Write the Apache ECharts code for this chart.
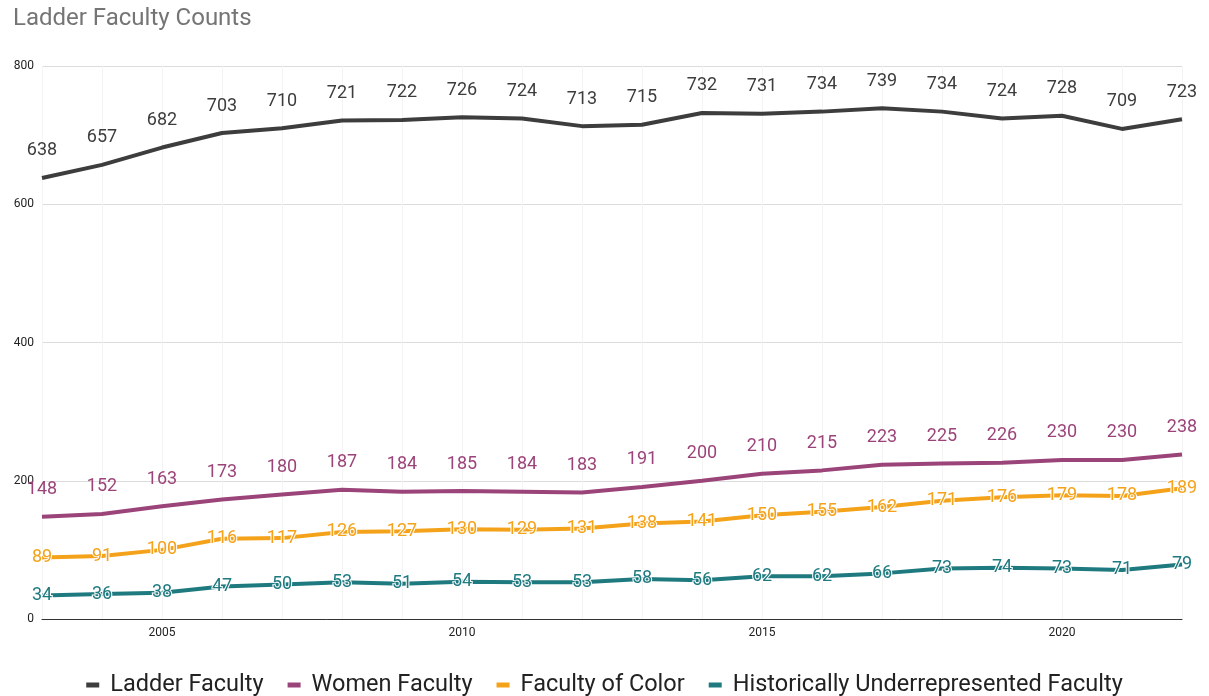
<!DOCTYPE html>
<html>
<head>
<meta charset="utf-8">
<script src="https://cdn.jsdelivr.net/npm/echarts@6/dist/echarts.min.js"></script>
<style>
  html, body { margin: 0; padding: 0; background: #fff; }
  #chart { width: 1209px; height: 696px; }
</style>
</head>
<body>
<div id="chart"></div>
<script>
  const years = ['2003','2004','2005','2006','2007','2008','2009','2010','2011','2012',
                 '2013','2014','2015','2016','2017','2018','2019','2020','2021','2022'];
  const ladder = [638,657,682,703,710,721,722,726,724,713,715,732,731,734,739,734,724,728,709,723];
  const women = [148,152,163,173,180,187,184,185,184,183,191,200,210,215,223,225,226,230,230,238];
  const color = [89,91,100,116,117,126,127,130,129,131,138,141,150,155,162,171,176,179,178,189];
  const underrep = [34,36,38,47,50,53,51,54,53,53,58,56,62,62,66,73,74,73,71,79];

  const font = 'Roboto, "Liberation Sans", sans-serif';
  const everyFifth = (i) => Number(years[i]) % 5 === 0;

  function line(name, data, c, labelPos) {
    return {
      name: name,
      type: 'line',
      data: data,
      symbol: 'circle',
      symbolSize: 0.1,
      showAllSymbol: true,
      lineStyle: {width: 4, color: c},
      itemStyle: {color: c},
      labelLayout: {hideOverlap: false},
      label: labelPos === 'top'
        ? {show: true, position: 'top', distance: 18, color: c, fontSize: 18, fontFamily: font}
        : {show: true, position: 'inside', color: c, fontSize: 18, fontFamily: font,
           textBorderColor: '#fff', textBorderWidth: 2}
    };
  }

  const chart = echarts.init(document.getElementById('chart'));
  chart.setOption({
    animation: false,
    title: {
      text: 'Ladder Faculty Counts',
      left: 8, top: 2,
      textStyle: {color: '#757575', fontSize: 24, fontWeight: 'normal', fontFamily: font}
    },
    legend: {
      top: 668,
      icon: 'rect',
      itemWidth: 13, itemHeight: 5,
      itemGap: 24,
      textStyle: {color: '#222', fontSize: 23.5, fontFamily: font, padding: [0, 0, 0, 6]},
      data: ['Ladder Faculty', 'Women Faculty', 'Faculty of Color', 'Historically Underrepresented Faculty']
    },
    grid: {left: 42, right: 27, top: 66, bottom: 77},
    xAxis: [{
      type: 'category',
      data: years,
      boundaryGap: false,
      axisLine: {lineStyle: {color: '#333', width: 1}},
      axisTick: {show: false},
      axisLabel: {interval: (i) => everyFifth(i), color: '#222', fontSize: 12, margin: 8, fontFamily: font},
      splitLine: {show: true, interval: (i) => everyFifth(i), lineStyle: {color: '#d9d9d9'}}
    }, {
      type: 'category',
      data: years,
      boundaryGap: false,
      position: 'bottom',
      axisLine: {show: false},
      axisTick: {show: false},
      axisLabel: {show: false},
      splitLine: {show: true, interval: 0, lineStyle: {color: '#f4f4f4'}}
    }],
    yAxis: {
      type: 'value',
      min: 0, max: 800, interval: 200,
      axisLine: {show: false},
      axisTick: {show: false},
      axisLabel: {color: '#222', fontSize: 12, margin: 8, fontFamily: font},
      splitLine: {lineStyle: {color: '#dcdcdc'}}
    },
    series: [
      line('Ladder Faculty', ladder, '#3d3d3d', 'top'),
      line('Women Faculty', women, '#9b4479', 'top'),
      line('Faculty of Color', color, '#f4a21a', 'inside'),
      line('Historically Underrepresented Faculty', underrep, '#1f7a80', 'inside')
    ]
  });
</script>
</body>
</html>
